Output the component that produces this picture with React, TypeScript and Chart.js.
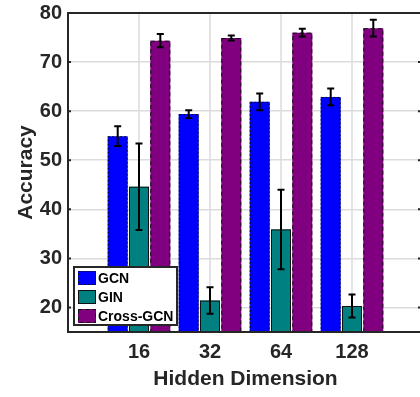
import React, { useEffect, useRef } from 'react';
import { Chart, registerables } from 'chart.js';

Chart.register(...registerables);

const categories = ['16', '32', '64', '128'];
const seriesNames = ['GCN', 'GIN', 'Cross-GCN'];
const gcnMean = [54.9, 59.4, 61.9, 62.9];
const gcnErr = [2.0, 0.8, 1.7, 1.7];
const ginMean = [44.6, 21.4, 35.9, 20.3];
const ginErr = [8.8, 2.7, 8.1, 2.35];
const crossMean = [74.35, 74.9, 76.0, 76.9];
const crossErr = [1.35, 0.5, 0.8, 1.7];
const yTicks = [20, 30, 40, 50, 60, 70, 80];
const seriesColors = ['#0000ff', '#008080', '#800080'];
const seriesDash = [[2, 2], [], [4, 3]];

const INK = '#262626';
const GRID = '#dcdcdc';
const FONT = '"Liberation Sans", Arial, sans-serif';

const pad = (arr: (number | string)[], fill: any) => [fill, ...arr, fill];

const gridPlugin = {
  id: 'vgrid',
  beforeDatasetsDraw(chart: any) {
    const ctx = chart.ctx;
    const xScale = chart.scales.x;
    const area = chart.chartArea;
    ctx.save();
    ctx.strokeStyle = GRID;
    ctx.lineWidth = 1.5;
    ctx.beginPath();
    categories.forEach((_, i) => {
      const px = Math.round(xScale.getPixelForValue(i + 1));
      ctx.moveTo(px, area.top);
      ctx.lineTo(px, area.bottom);
    });
    ctx.stroke();
    ctx.restore();
  },
};

const errorBarPlugin = {
  id: 'errorBars',
  afterDatasetsDraw(chart: any) {
    const ctx = chart.ctx;
    const yScale = chart.scales.y;
    const area = chart.chartArea;
    const errs = [gcnErr, ginErr, crossErr];
    ctx.save();
    ctx.beginPath();
    ctx.rect(area.left, area.top, area.right - area.left, area.bottom - area.top);
    ctx.clip();
    chart.data.datasets.forEach((ds: any, i: number) => {
      const meta = chart.getDatasetMeta(i);
      meta.data.forEach((bar: any, j: number) => {
        if (ds.data[j] == null) return;
        const { x, y, base, width } = bar.getProps(['x', 'y', 'base', 'width'], true);
        ctx.save();
        ctx.strokeStyle = '#111';
        ctx.lineWidth = 1;
        ctx.setLineDash(seriesDash[i]);
        ctx.strokeRect(x - width / 2 + 0.5, y + 0.5, width - 1, base - y);
        ctx.restore();
      });
    });
    ctx.strokeStyle = '#000';
    ctx.lineWidth = 2;
    chart.data.datasets.forEach((ds: any, i: number) => {
      const meta = chart.getDatasetMeta(i);
      meta.data.forEach((bar: any, j: number) => {
        const v = ds.data[j];
        if (v == null) return;
        const e = errs[i][j - 1];
        const x = bar.x;
        const yTop = yScale.getPixelForValue(v + e);
        const yBot = yScale.getPixelForValue(v - e);
        const cap = 3.5;
        ctx.beginPath();
        ctx.moveTo(x, yTop);
        ctx.lineTo(x, yBot);
        ctx.moveTo(x - cap, yTop);
        ctx.lineTo(x + cap, yTop);
        ctx.moveTo(x - cap, yBot);
        ctx.lineTo(x + cap, yBot);
        ctx.stroke();
      });
    });
    ctx.restore();

    ctx.save();
    ctx.strokeStyle = INK;
    ctx.lineWidth = 2;
    ctx.strokeRect(area.left, area.top, area.right - area.left, area.bottom - area.top);
    ctx.beginPath();
    yTicks.forEach((t) => {
      const py = yScale.getPixelForValue(t);
      ctx.moveTo(area.left, py);
      ctx.lineTo(area.left + 3, py);
      ctx.moveTo(area.right, py);
      ctx.lineTo(area.right - 5, py);
    });
    ctx.stroke();
    ctx.restore();

    const lx = 74, ly = 267, lw = 103, lh = 58;
    ctx.save();
    ctx.fillStyle = '#ffffff';
    ctx.fillRect(lx, ly, lw, lh);
    ctx.strokeStyle = INK;
    ctx.lineWidth = 2;
    ctx.strokeRect(lx, ly, lw, lh);
    ctx.font = `bold 14px ${FONT}`;
    ctx.textBaseline = 'middle';
    ctx.textAlign = 'left';
    seriesNames.forEach((name, i) => {
      const cy = ly + 11 + i * 19;
      ctx.fillStyle = seriesColors[i];
      ctx.fillRect(lx + 4, cy - 7, 18, 14);
      ctx.save();
      ctx.strokeStyle = '#111';
      ctx.lineWidth = 1;
      ctx.setLineDash(seriesDash[i]);
      ctx.strokeRect(lx + 4.5, cy - 6.5, 17, 13);
      ctx.restore();
      ctx.fillStyle = '#000';
      ctx.fillText(name, lx + 24, cy + 1);
    });
    ctx.restore();
  },
};

export default function App() {
  const ref = useRef<HTMLCanvasElement | null>(null);
  useEffect(() => {
    if (!ref.current) return;
    const labels = pad(categories, '');
    const means = [gcnMean, ginMean, crossMean];
    const chart = new Chart(ref.current, {
      type: 'bar',
      data: {
        labels,
        datasets: seriesNames.map((name, i) => ({
          label: name,
          data: pad(means[i], null),
          backgroundColor: seriesColors[i],
          borderWidth: 0,
          categoryPercentage: 0.9,
          barPercentage: 0.94,
        })),
      },
      options: {
        responsive: false,
        maintainAspectRatio: false,
        animation: false,
        devicePixelRatio: 1,
        layout: { padding: { top: 13, right: 3, left: 0, bottom: 0 } },
        plugins: { legend: { display: false }, tooltip: { enabled: false } },
        scales: {
          x: {
            offset: false,
            grid: { display: false, drawTicks: false },
            border: { display: false },
            ticks: { color: INK, font: { family: FONT, size: 20, weight: 'bold' }, padding: 8, maxRotation: 0, autoSkip: false },
            title: { display: true, text: 'Hidden Dimension', color: INK, font: { family: FONT, size: 21, weight: 'bold' }, padding: 5 },
            afterFit: (s: any) => { s.height = 65; s.paddingLeft = 0; s.paddingRight = 0; },
          },
          y: {
            min: 15,
            max: 80,
            afterBuildTicks: (s: any) => { s.ticks = yTicks.map((v) => ({ value: v })); },
            grid: { color: GRID, lineWidth: 1.5, drawTicks: false },
            border: { display: false },
            ticks: { color: INK, font: { family: FONT, size: 20, weight: 'bold' }, padding: 6 },
            title: { display: true, text: 'Accuracy', color: INK, font: { family: FONT, size: 21, weight: 'bold' }, padding: { top: 14, bottom: 0 } },
            afterFit: (s: any) => { s.width = 68; s.paddingTop = 0; s.paddingBottom = 0; },
          },
        },
      },
      plugins: [gridPlugin, errorBarPlugin],
    });
    return () => chart.destroy();
  }, []);
  return (
    <div style={{ position: 'fixed', left: 0, top: 0, width: 420, height: 397, background: '#fff', overflow: 'hidden' }}>
      <canvas ref={ref} width={426} height={397} style={{ display: 'block' }} />
    </div>
  );
}
